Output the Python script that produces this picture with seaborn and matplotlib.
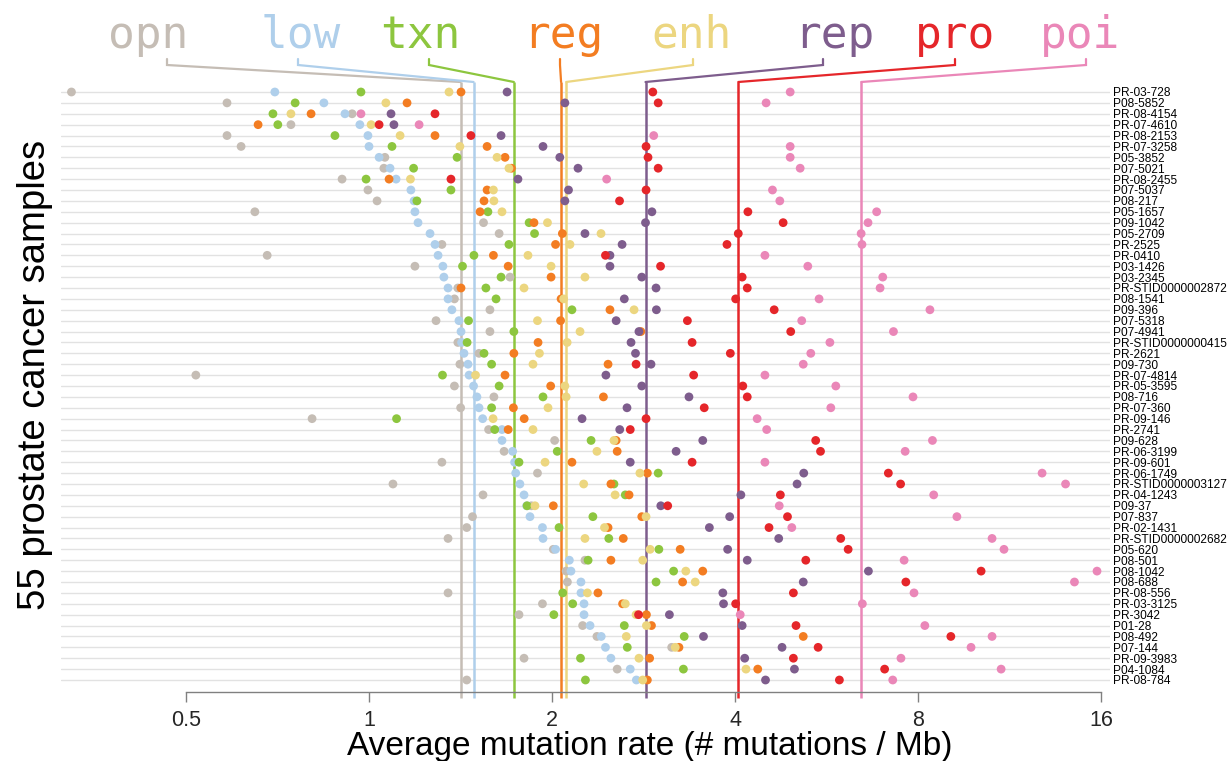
import numpy as np
import pandas as pd
import matplotlib
matplotlib.use("Agg")
import matplotlib.pyplot as plt
from matplotlib.ticker import NullLocator
import seaborn as sns

samples = ["PR-03-728", "P08-5852", "PR-08-4154", "PR-07-4610", "PR-08-2153", "PR-07-3258",
           "P05-3852", "P07-5021", "PR-08-2455", "P07-5037", "P08-217", "P05-1657", "P09-1042",
           "P05-2709", "PR-2525", "PR-0410", "P03-1426", "P03-2345", "PR-STID0000002872",
           "P08-1541", "P09-396", "P07-5318", "P07-4941", "PR-STID0000000415", "PR-2621",
           "P09-730", "PR-07-4814", "PR-05-3595", "P08-716", "PR-07-360", "PR-09-146", "PR-2741",
           "P09-628", "PR-06-3199", "PR-09-601", "PR-06-1749", "PR-STID0000003127", "PR-04-1243",
           "P09-37", "P07-837", "PR-02-1431", "PR-STID0000002682", "P05-620", "P08-501",
           "P08-1042", "P08-688", "PR-08-556", "PR-03-3125", "PR-3042", "P01-28", "P08-492",
           "P07-144", "PR-09-3983", "P04-1084", "PR-08-784"]

regions = ["opn", "low", "txn", "reg", "enh", "rep", "pro", "poi"]

opn = [0.324, 0.584, 0.938, 0.744, 0.584, 0.616, 1.062, 1.058, 0.903, 0.996, 1.031, 0.649, 1.543,
       1.637, 1.318, 0.680, 1.19, 1.706, 1.40, 1.382, 1.581, 1.289, 1.581, 1.40, 1.517, 1.411,
       0.519, 1.382, 1.605, 1.415, 0.806, 1.573, 2.02, 1.668, 1.318, 1.893, 1.095, 1.54, 1.85,
       1.48, 1.448, 1.349, 2.01, 2.266, 2.11, 2.12, 1.349, 1.929, 1.765, 2.246, 2.371, 3.147,
       1.799, 2.56, 1.448]
low = [0.70, 0.843, 0.913, 0.966, 0.996, 1.0, 1.039, 1.083, 1.108, 1.172, 1.186, 1.19, 1.204,
       1.26, 1.284, 1.299, 1.323, 1.328, 1.349, 1.349, 1.369, 1.406, 1.417, 1.42, 1.433, 1.455,
       1.461, 1.486, 1.505, 1.517, 1.538, 1.655, 1.655, 1.723, 1.736, 1.743, 1.771, 1.799, 1.817,
       1.84, 1.929, 1.933, 2.027, 2.136, 2.149, 2.232, 2.232, 2.258, 2.258, 2.31, 2.41, 2.449,
       2.50, 2.69, 2.753]
txn = [0.97, 0.756, 0.695, 0.708, 0.879, 1.091, 1.396, 1.184, 0.989, 1.364, 1.199, 1.569, 1.834,
       1.872, 1.699, 1.488, 1.425, 1.649, 1.557, 1.618, 2.157, 1.458, 1.731, 1.450, 1.546, 1.591,
       1.321, 1.637, 1.933, 1.591, 1.11, 1.61, 2.319, 2.04, 1.765, 2.99, 2.529, 2.64, 1.82,
       2.335, 2.054, 2.48, 2.998, 2.293, 3.17, 2.966, 2.083, 2.163, 2.014, 2.63, 3.30, 2.66,
       2.228, 3.29, 2.27]
reg = [1.417, 1.155, 0.803, 0.657, 1.284, 1.564, 1.674, 1.715, 1.079, 1.564, 1.546, 1.523, 1.868,
       2.08, 2.027, 1.602, 1.694, 1.993, 1.417, 2.07, 2.491, 2.066, 2.80, 1.897, 1.731, 2.473,
       1.674, 1.99, 2.43, 1.728, 1.80, 1.694, 2.55, 2.56, 2.157, 2.87, 2.50, 2.678, 2.01, 2.81,
       2.473, 2.62, 3.25, 2.50, 3.54, 3.28, 2.38, 2.613, 2.86, 2.915, 5.18, 3.235, 2.895, 4.36,
       2.87]
enh = [1.354, 1.066, 0.744, 1.008, 1.125, 1.411, 1.624, 1.699, 1.17, 1.602, 1.605, 1.655, 1.966,
       2.408, 2.141, 1.826, 1.993, 2.266, 1.799, 2.09, 2.729, 1.893, 2.224, 2.118, 1.907, 1.861,
       1.497, 2.10, 2.11, 1.97, 1.60, 1.861, 2.529, 2.371, 1.948, 2.79, 2.255, 2.54, 1.875,
       2.856, 2.44, 2.266, 2.90, 2.82, 3.32, 3.44, 2.287, 2.64, 2.75, 2.86, 2.65, 3.19, 2.78,
       4.17, 2.82]
rep = [1.687, 2.10, 1.087, 1.099, 1.649, 1.933, 2.06, 2.207, 1.758, 2.129, 2.10, 2.92, 2.85,
       2.266, 2.608, 2.491, 2.491, 2.81, 2.966, 2.63, 2.97, 2.55, 2.78, 2.698, 2.744, 2.91,
       2.453, 2.81, 3.36, 2.657, 2.241, 2.585, 3.54, 3.20, 2.69, 5.19, 5.06, 4.09, 3.02, 3.92,
       3.63, 4.72, 3.89, 4.19, 6.63, 5.18, 3.82, 3.83, 3.12, 4.11, 3.55, 4.78, 4.15, 5.01, 4.49]
pro = [2.93, 2.99, 1.284, 1.039, 1.471, 2.856, 2.877, 2.99, 1.364, 2.856, 2.583, 4.20, 4.80,
       4.05, 3.88, 2.449, 3.017, 4.11, 4.19, 4.01, 4.64, 3.34, 4.94, 3.40, 3.93, 2.75, 3.42,
       4.12, 4.19, 3.56, 2.856, 2.69, 5.43, 5.53, 3.40, 7.15, 7.49, 4.75, 3.10, 4.88, 4.55,
       5.97, 6.14, 5.23, 10.16, 7.64, 4.99, 4.01, 2.776, 5.04, 9.06, 5.48, 4.99, 7.05, 5.94]
poi = [4.93, 4.50, 0.97, 1.209, 2.94, 4.93, 4.93, 5.12, 2.46, 4.61, 4.74, 6.84, 6.62, 6.45,
       6.47, 4.48, 5.27, 7.0, 6.93, 5.50, 8.37, 5.15, 7.29, 5.73, 5.33, 5.18, 4.48, 5.86, 7.85,
       5.75, 4.35, 4.51, 8.45, 7.62, 4.48, 12.8, 13.99, 8.49, 4.73, 9.27, 4.96, 10.59, 11.08,
       7.59, 15.76, 14.47, 7.88, 6.48, 4.08, 8.21, 10.59, 9.78, 7.50, 10.96, 7.27]

xticks = [0.5, 1, 2, 4, 8, 16]
xticklabels = ["0.5", "1", "2", "4", "8", "16"]

colors = {"opn": "#c5bdb5", "low": "#afcfeb", "txn": "#8dc63f", "reg": "#f37d22",
          "enh": "#ecd680", "rep": "#7e5d8d", "pro": "#e5262a", "poi": "#ea87b8"}

series = {"opn": opn, "low": low, "txn": txn, "reg": reg, "enh": enh,
          "rep": rep, "pro": pro, "poi": poi}

rows = []
for r in regions:
    for i, v in enumerate(series[r]):
        rows.append({"sample": samples[i], "row": i, "region": r, "rate": v})
df = pd.DataFrame(rows)

sns.set_theme(style="white")
plt.rcParams["font.family"] = ["Liberation Sans", "DejaVu Sans"]

W, H = 1232, 761
fig = plt.figure(figsize=(W / 100, H / 100), dpi=100)
ax_l, ax_r, ax_top, ax_bot = 61, 1110, 82, 692
ax = fig.add_axes([ax_l / W, (H - ax_bot) / H, (ax_r - ax_l) / W, (ax_bot - ax_top) / H])

sns.scatterplot(data=df, x="rate", y="row", hue="region", hue_order=regions, palette=colors,
                s=40, linewidth=0, legend=False, ax=ax, zorder=3)

ax.set_xscale("log", base=2)
px_per_oct = 183.0
x_one = 369.0
ax.set_xlim(2 ** ((ax_l - x_one) / px_per_oct), 2 ** ((ax_r - x_one) / px_per_oct))
row_h = (680 - 92) / 54
ax.set_ylim(54 + (ax_bot - 680) / row_h, -(92 - ax_top) / row_h)

ax.set_yticks(range(len(samples)))
ax.set_yticklabels(samples, fontsize=8.6, color="black")
ax.yaxis.tick_right()
ax.tick_params(axis="y", length=0, pad=2)
ax.grid(axis="y", color="#e2e2e2", lw=1.0, zorder=0)
ax.grid(axis="x", visible=False)
ax.set_axisbelow(True)

ax.set_xticks(xticks)
ax.set_xticklabels(xticklabels)
ax.xaxis.set_minor_locator(NullLocator())
ax.tick_params(axis="x", bottom=True, direction="out", length=7, width=1,
               color="#808080", labelsize=15.5, pad=6)
for s in ["top", "left", "right"]:
    ax.spines[s].set_visible(False)
ax.spines["bottom"].set_bounds(0.5, 16)
ax.spines["bottom"].set_color("#808080")
ax.spines["bottom"].set_linewidth(1)
ax.set_xlabel("")
ax.set_ylabel("")

# median lines with bracket connectors to the labels
ax_h = ax_bot - ax_top
tick_px = [167, 298, 429, 560, 693, 823, 955, 1086]
text_px = [148, 301, 420, 563, 692, 834, 955, 1080]
y_bot = (ax_bot - 698) / ax_h
y_k1 = (ax_bot - 65) / ax_h
y_k2 = (ax_bot - 59) / ax_h
y_txt = (ax_bot - 48) / ax_h
fig.canvas.draw()
to_axes = ax.transAxes.inverted()
blend = matplotlib.transforms.blended_transform_factory(ax.transData, ax.transAxes)
for r, tp, txp in zip(regions, tick_px, text_px):
    m = float(np.median(series[r]))
    c = colors[r]
    ax.plot([m, m], [y_bot, 1.0], transform=blend, color=c, lw=1.8, clip_on=False, zorder=2,
            solid_capstyle="butt")
    xa = to_axes.transform(ax.transData.transform((m, 0)))[0]
    tx = (tp - ax_l) / (ax_r - ax_l)
    ax.plot([xa, tx, tx], [1.0, y_k1, y_k2], transform=ax.transAxes, color=c, lw=1.6,
            clip_on=False, zorder=2, solid_joinstyle="miter")
    ax.text((txp - ax_l) / (ax_r - ax_l), y_txt, r, transform=ax.transAxes, ha="center",
            va="baseline", fontsize=32, family="DejaVu Sans Mono", color=c)

fig.text(35 / W, 1 - 375 / H, "55 prostate cancer samples", rotation=90, ha="center",
         va="center", fontsize=27.5, color="black")
fig.text(650 / W, 1 - 755 / H, "Average mutation rate (# mutations / Mb)", ha="center",
         va="baseline", fontsize=24, color="black")

fig.savefig("out.png", dpi=100)
